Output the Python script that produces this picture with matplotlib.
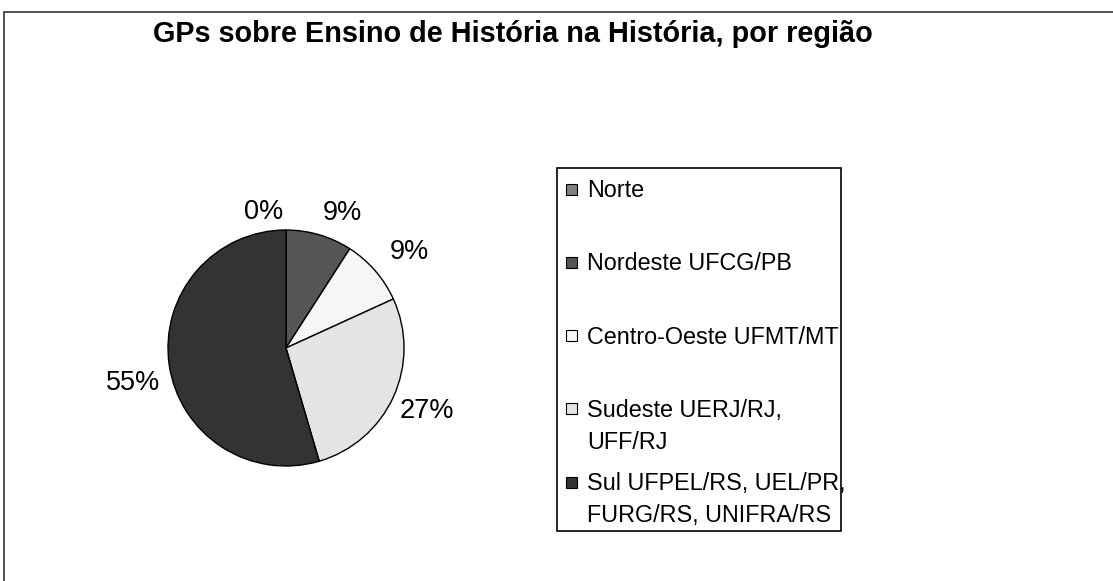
import numpy as np
import matplotlib
matplotlib.use("Agg")
import matplotlib.pyplot as plt
from matplotlib.patches import Rectangle

plt.rcParams['font.family'] = ['Liberation Sans', 'DejaVu Sans']

# data
regions = ['Norte', 'Nordeste UFCG/PB', 'Centro-Oeste UFMT/MT',
           'Sudeste UERJ/RJ,\nUFF/RJ', 'Sul UFPEL/RS, UEL/PR,\nFURG/RS, UNIFRA/RS']
counts = [0, 1, 1, 3, 6]
colors = ['#808080', '#555555', '#f6f6f6', '#e4e4e4', '#333333']
title = 'GPs sobre Ensino de História na História, por região'

W, H = 1113, 581
fig = plt.figure(figsize=(W / 100, H / 100), dpi=100)

# outer frame (cut off at right / bottom)
fig.patches.append(Rectangle((4 / W, -0.1), 2, 1 - 12 / H + 0.1, transform=fig.transFigure,
                             fill=False, edgecolor='#333333', linewidth=1.2))

fig.text(513 / W, 1 - 34 / H, title, ha='center', va='center',
         fontsize=20.8, fontweight='bold')

# pie
cx, cy, R = 286, 348, 118
ax = fig.add_axes([(cx - R) / W, (H - cy - R) / H, 2 * R / W, 2 * R / H])
wedges, _ = ax.pie(counts, colors=colors, startangle=90, counterclock=False,
                   wedgeprops=dict(edgecolor='black', linewidth=1))
ax.set_xlim(-1, 1)
ax.set_ylim(-1, 1)
ax.set_aspect('equal')
ax.axis('off')

total = sum(counts)
pcts = [f'{round(c / total * 100)}%' for c in counts]
# small nudges (pixels) to mimic the original label placement
nudges = [(-22, 2), (16, -3), (15, -6), (5, 6), (-5, 15)]
gap = 10
for w, p, (nx, ny) in zip(wedges, pcts, nudges):
    th = np.deg2rad((w.theta1 + w.theta2) / 2)
    hw = 12 * len(p) / 2 + 3
    hh = 10
    px = (R + gap) * np.cos(th) + hw * np.cos(th) + nx
    py = (R + gap) * np.sin(th) + hh * np.sin(th) - ny
    ax.text(px / R, py / R, p, ha='center', va='center', fontsize=19.5, clip_on=False)

# legend drawn in pixel coordinates
lax = fig.add_axes([0, 0, 1, 1])
lax.set_xlim(0, W)
lax.set_ylim(H, 0)
lax.axis('off')
lax.add_patch(Rectangle((557, 168), 284, 363, fill=False, edgecolor='black', linewidth=1.2))
y0, step = 189, 73.3
for i, (lab, col) in enumerate(zip(regions, colors)):
    yc = y0 + i * step
    lax.add_patch(Rectangle((566, yc - 5.5), 11, 11, facecolor=col, edgecolor='black', linewidth=0.8))
    lax.text(587, yc - 10, lab, ha='left', va='top', fontsize=16.8, linespacing=1.48)

fig.savefig('out.png', dpi=100, facecolor='white')
